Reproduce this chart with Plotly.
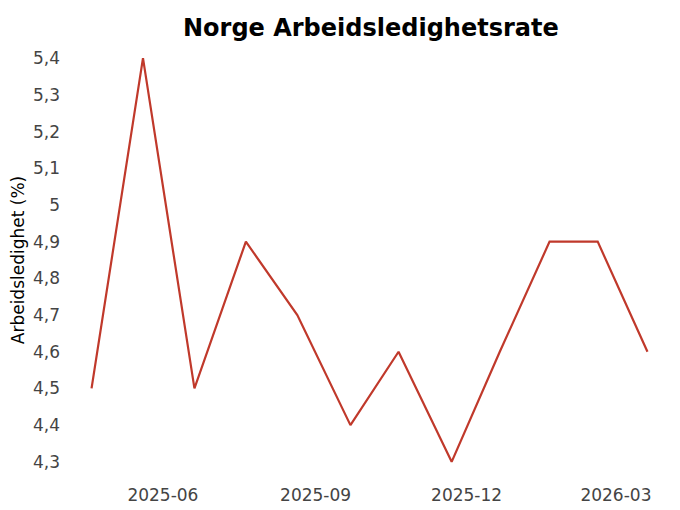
import plotly.graph_objects as go

dates = ["2025-04-19", "2025-05-20", "2025-06-20", "2025-07-21", "2025-08-21",
         "2025-09-22", "2025-10-21", "2025-11-22", "2025-12-21", "2026-01-20",
         "2026-02-18", "2026-03-20"]
values = [4.5, 5.4, 4.5, 4.9, 4.7, 4.4, 4.6, 4.3, 4.6, 4.9, 4.9, 4.6]

y_tickvals = [4.3, 4.4, 4.5, 4.6, 4.7, 4.8, 4.9, 5.0, 5.1, 5.2, 5.3, 5.4]
y_ticktext = ["4,3", "4,4", "4,5", "4,6", "4,7", "4,8", "4,9", "5", "5,1", "5,2", "5,3", "5,4"]
x_tickvals = ["2025-06-01", "2025-09-01", "2025-12-01", "2026-03-01"]
x_ticktext = ["2025-06", "2025-09", "2025-12", "2026-03"]

fig = go.Figure(go.Scatter(x=dates, y=values, mode="lines",
                           line=dict(color="#c0392b", width=2.2)))

# the page body adds an 8px offset, so the figure is 8px smaller on each axis
fig.update_layout(
    width=672, height=502,
    paper_bgcolor="white", plot_bgcolor="white",
    font=dict(family="DejaVu Sans", size=17, color="#444444"),
    title=dict(text="<b>Norge Arbeidsledighetsrate</b>", x=0.540, xanchor="center",
               y=0.960, yref="container", yanchor="middle",
               font=dict(family="DejaVu Sans", size=24, color="black")),
    margin=dict(l=57, r=1, t=30, b=28, autoexpand=False),
    showlegend=False,
)
fig.update_xaxes(type="date", range=["2025-04-03", "2026-04-08"],
                 tickvals=x_tickvals, ticktext=x_ticktext,
                 showgrid=False, zeroline=False, showline=False, ticks="",
                 automargin=False, ticklabelstandoff=1,
                 tickfont=dict(size=17, color="#444444"))
fig.update_yaxes(range=[4.245, 5.455], tickvals=y_tickvals, ticktext=y_ticktext,
                 showgrid=False, zeroline=False, showline=False, ticks="",
                 automargin=False, ticklabelstandoff=4,
                 tickfont=dict(size=17, color="#444444"),
                 title=dict(text="Arbeidsledighet (%)", standoff=5,
                            font=dict(size=17, color="black")))

fig.write_html("out.html")
